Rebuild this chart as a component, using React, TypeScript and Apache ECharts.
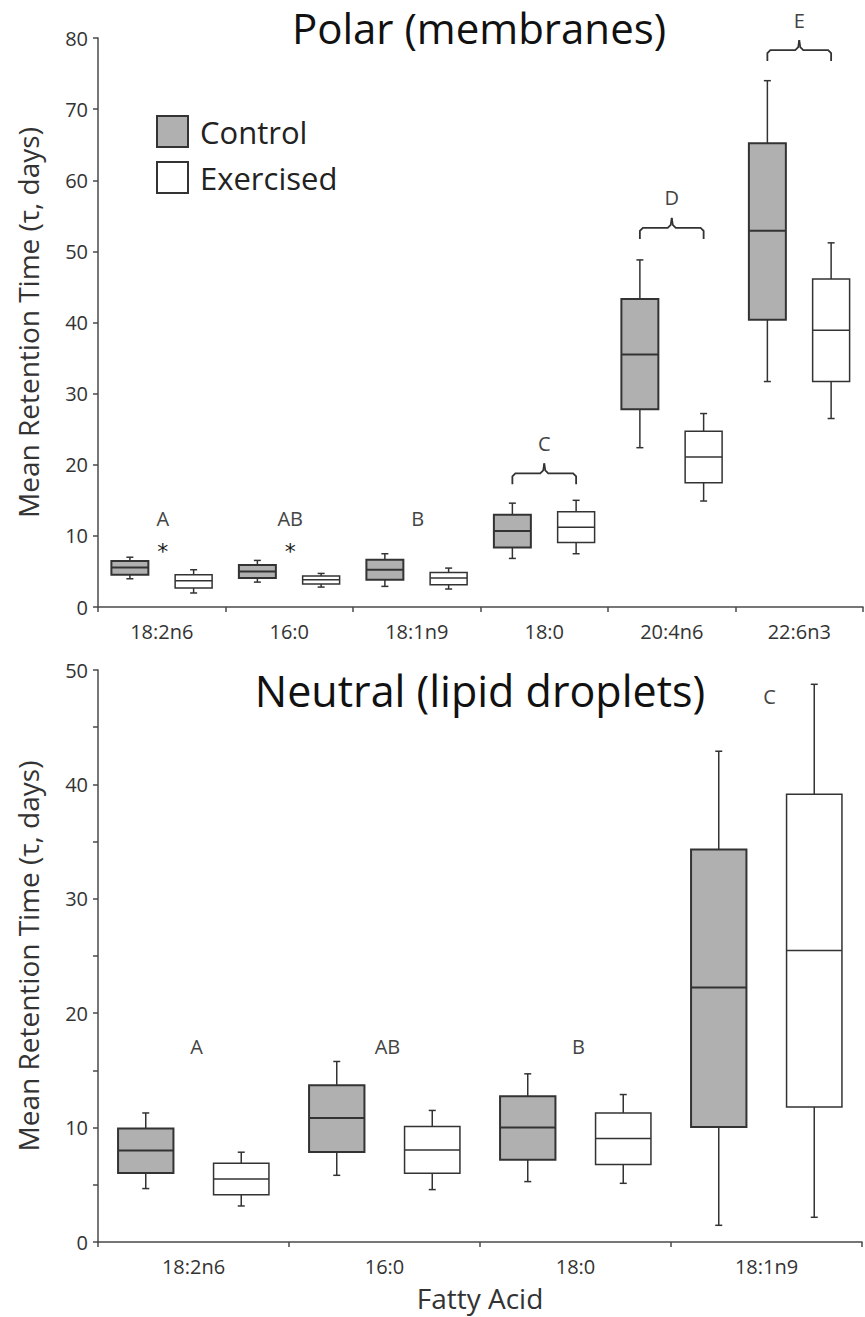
import React, { useEffect, useRef } from "react";
import * as echarts from "echarts";

// ---- Data ----
const topCategories = ["18:2n6", "16:0", "18:1n9", "18:0", "20:4n6", "22:6n3"];
// [low whisker, Q1, median, Q3, high whisker]
const topControl = [
  [3.97, 4.54, 5.56, 6.46, 7.0],
  [3.5, 4.07, 5.0, 5.9, 6.55],
  [2.9, 3.83, 5.24, 6.64, 7.49],
  [6.83, 8.37, 10.7, 12.96, 14.6],
  [22.4, 27.8, 35.5, 43.3, 48.8],
  [31.7, 40.4, 52.9, 65.2, 74.0],
];
const topExercised = [
  [1.97, 2.67, 3.69, 4.54, 5.24],
  [2.8, 3.23, 3.83, 4.35, 4.72],
  [2.53, 3.13, 4.07, 4.86, 5.47],
  [7.49, 9.07, 11.2, 13.4, 15.0],
  [14.9, 17.46, 21.1, 24.7, 27.2],
  [26.5, 31.7, 38.9, 46.1, 51.2],
];
const topYTicks = { min: 0, max: 80, interval: 10 };
const topLetterLabels = ["A", "AB", "B"];
const topLetterCats = [0, 1, 2];
const topLetterValues = [12.4, 12.4, 12.4];
const topStarCats = [0, 1];
const topStarValues = [8.5, 8.5];
const topBracketLabels = ["C", "D", "E"];
const topBracketCats = [3, 4, 5];
const topBracketValues = [18.8, 53.3, 78.3];

const bottomCategories = ["18:2n6", "16:0", "18:0", "18:1n9"];
const bottomControl = [
  [4.67, 6.04, 7.99, 9.92, 11.28],
  [5.83, 7.87, 10.85, 13.7, 15.78],
  [5.28, 7.2, 10.0, 12.74, 14.7],
  [1.46, 10.06, 22.25, 34.3, 42.9],
];
const bottomExercised = [
  [3.15, 4.14, 5.51, 6.88, 7.85],
  [4.58, 6.01, 8.05, 10.09, 11.5],
  [5.13, 6.77, 9.04, 11.28, 12.89],
  [2.16, 11.81, 25.48, 39.13, 48.75],
];
const bottomYTicks = { min: 0, max: 50, interval: 10 };
const bottomLetterLabels = ["A", "AB", "B", "C"];
const bottomLetterCats = [0, 1, 2, 3];
const bottomLetterValues = [17.05, 17.05, 17.05, 47.66];

const seriesNames = ["Control", "Exercised"];
const topTitle = "Polar (membranes)";
const bottomTitle = "Neutral (lipid droplets)";
const yAxisName = "Mean Retention Time (\u03c4, days)";
const xAxisName = "Fatty Acid";

// ---- Styles ----
const FONT = "Open Sans";
const GRAY = "#b0b0b0";
const LINE = "#333";
const AXIS = "#4a4a4a";
const TEXT = "#333";

function boxRenderer(offsetFrac: number, widthFrac: number, fill: string, lw: number) {
  return (params: any, api: any) => {
    const idx = api.value(0);
    const band = api.size([1, 0])[0];
    const cx = api.coord([idx, 0])[0] + offsetFrac * band;
    const w = widthFrac * band;
    const yLow = api.coord([idx, api.value(1)])[1];
    const yQ1 = api.coord([idx, api.value(2)])[1];
    const yMed = api.coord([idx, api.value(3)])[1];
    const yQ3 = api.coord([idx, api.value(4)])[1];
    const yHigh = api.coord([idx, api.value(5)])[1];
    const cap = 3.5;
    const ls = { stroke: LINE, lineWidth: 1.5 };
    return {
      type: "group",
      children: [
        { type: "line", shape: { x1: cx, y1: yQ3, x2: cx, y2: yHigh }, style: ls },
        { type: "line", shape: { x1: cx - cap, y1: yHigh, x2: cx + cap, y2: yHigh }, style: ls },
        { type: "line", shape: { x1: cx, y1: yQ1, x2: cx, y2: yLow }, style: ls },
        { type: "line", shape: { x1: cx - cap, y1: yLow, x2: cx + cap, y2: yLow }, style: ls },
        {
          type: "rect",
          shape: { x: cx - w / 2, y: yQ3, width: w, height: yQ1 - yQ3 },
          style: { fill, stroke: LINE, lineWidth: lw },
        },
        { type: "line", shape: { x1: cx - w / 2, y1: yMed, x2: cx + w / 2, y2: yMed }, style: { stroke: LINE, lineWidth: lw } },
      ],
    };
  };
}

function letterRenderer(labels: string[], fontSize: number, dx: number, dy: number, family: string, color: string) {
  return (params: any, api: any) => {
    const p = api.coord([api.value(0), api.value(1)]);
    return {
      type: "text",
      x: p[0] + dx,
      y: p[1] + dy,
      style: {
        text: labels[params.dataIndex],
        fill: color,
        fontSize,
        fontFamily: family,
        align: "center",
        verticalAlign: "middle",
      },
    };
  };
}

function bracketRenderer(labels: string[]) {
  return (params: any, api: any) => {
    const idx = api.value(0);
    const band = api.size([1, 0])[0];
    const c = api.coord([idx, api.value(1)]);
    const xc = c[0];
    const y = c[1];
    const x1 = xc - 0.25 * band;
    const x2 = xc + 0.25 * band;
    const st = { stroke: LINE, lineWidth: 1.8, fill: null };
    return {
      type: "group",
      children: [
        {
          type: "polyline",
          shape: { points: [[x1, y + 11], [x1, y + 3], [x1 + 3, y], [xc - 4, y], [xc - 1, y - 3], [xc, y - 10]] },
          style: st,
        },
        {
          type: "polyline",
          shape: { points: [[xc, y - 10], [xc + 1, y - 3], [xc + 4, y], [x2 - 3, y], [x2, y + 3], [x2, y + 11]] },
          style: st,
        },
        {
          type: "text",
          x: xc,
          y: y - 30,
          style: {
            text: labels[params.dataIndex],
            fill: "#444",
            fontSize: 20,
            fontFamily: FONT,
            align: "center",
            verticalAlign: "middle",
          },
        },
      ],
    };
  };
}

function makeXAxis(gridIndex: number, cats: string[], withName: boolean) {
  return {
    type: "category",
    gridIndex,
    data: cats,
    boundaryGap: true,
    axisLine: { show: true, lineStyle: { color: AXIS, width: 1.5 } },
    axisTick: { show: true, length: 5, inside: false, alignWithLabel: false, lineStyle: { color: AXIS, width: 1.5 } },
    axisLabel: { color: TEXT, fontSize: 20, fontFamily: FONT, margin: 14 },
    splitLine: { show: false },
    name: withName ? xAxisName : "",
    nameLocation: "middle",
    nameGap: 42,
    nameTextStyle: { color: TEXT, fontSize: 28, fontFamily: FONT },
  };
}

function makeYAxis(gridIndex: number, ticks: any, minor: boolean) {
  return {
    type: "value",
    gridIndex,
    min: ticks.min,
    max: ticks.max,
    interval: ticks.interval,
    axisLine: { show: true, lineStyle: { color: AXIS, width: 1.5 } },
    axisTick: { show: true, length: 5, lineStyle: { color: AXIS, width: 1.5 } },
    minorTick: { show: minor, splitNumber: 2, length: 5, lineStyle: { color: AXIS, width: 1.5 } },
    axisLabel: { color: TEXT, fontSize: 20, fontFamily: FONT, margin: 10 },
    splitLine: { show: false },
    name: yAxisName,
    nameLocation: "middle",
    nameRotate: 90,
    nameGap: 56,
    nameTextStyle: { color: TEXT, fontSize: 28, fontFamily: FONT },
  };
}

export default function App() {
  const ref = useRef<HTMLDivElement>(null);
  useEffect(() => {
    if (!ref.current) return;
    const chart = echarts.init(ref.current, null, { renderer: "svg" });
    const boxSeries = (name: string, data: number[][], xi: number, yi: number, off: number, fill: string, lw: number) => ({
      type: "custom",
      name,
      xAxisIndex: xi,
      yAxisIndex: yi,
      itemStyle: { color: fill, borderColor: LINE, borderWidth: lw },
      encode: { x: 0, y: [1, 2, 3, 4, 5] },
      data: data.map((d, i) => [i, ...d]),
      renderItem: boxRenderer(off, 0.29, fill, lw),
      silent: true,
    });
    const option: any = {
      animation: false,
      backgroundColor: "#fff",
      grid: [
        { left: 98, top: 38, width: 765, height: 569 },
        { left: 98, top: 670, width: 764, height: 572 },
      ],
      xAxis: [makeXAxis(0, topCategories, false), makeXAxis(1, bottomCategories, true)],
      yAxis: [makeYAxis(0, topYTicks, false), makeYAxis(1, bottomYTicks, true)],
      legend: {
        orient: "vertical",
        left: 151,
        top: 110,
        itemWidth: 31,
        itemHeight: 31,
        itemGap: 13,
        icon: "rect",
        selectedMode: false,
        textStyle: { fontSize: 31, color: "#222", fontFamily: FONT, padding: [0, 0, 0, 7] },
        data: [
          { name: seriesNames[0], itemStyle: { color: GRAY, borderColor: LINE, borderWidth: 2 } },
          { name: seriesNames[1], itemStyle: { color: "#fff", borderColor: LINE, borderWidth: 2 } },
        ],
      },
      graphic: [
        {
          type: "text",
          x: 479,
          y: 27,
          style: { text: topTitle, fontSize: 42, fontFamily: FONT, fill: "#111", align: "center", verticalAlign: "middle" },
        },
        {
          type: "text",
          x: 480,
          y: 690,
          style: { text: bottomTitle, fontSize: 43, fontFamily: FONT, fill: "#111", align: "center", verticalAlign: "middle" },
        },
      ],
      series: [
        boxSeries(seriesNames[0], topControl, 0, 0, -0.25, GRAY, 2),
        boxSeries(seriesNames[1], topExercised, 0, 0, 0.25, "#fff", 1.5),
        boxSeries(seriesNames[0], bottomControl, 1, 1, -0.25, GRAY, 2),
        boxSeries(seriesNames[1], bottomExercised, 1, 1, 0.25, "#fff", 1.5),
        {
          type: "custom",
          xAxisIndex: 0,
          yAxisIndex: 0,
          silent: true,
          data: topLetterCats.map((c, i) => [c, topLetterValues[i]]),
          renderItem: letterRenderer(topLetterLabels, 20, 1, 0, FONT, "#444"),
        },
        {
          type: "custom",
          xAxisIndex: 0,
          yAxisIndex: 0,
          silent: true,
          data: topStarCats.map((c, i) => [c, topStarValues[i]]),
          renderItem: letterRenderer(topStarCats.map(() => "*"), 22, 1, 5, "DejaVu Sans", "#1a1a1a"),
        },
        {
          type: "custom",
          xAxisIndex: 0,
          yAxisIndex: 0,
          silent: true,
          data: topBracketCats.map((c, i) => [c, topBracketValues[i]]),
          renderItem: bracketRenderer(topBracketLabels),
        },
        {
          type: "custom",
          xAxisIndex: 1,
          yAxisIndex: 1,
          silent: true,
          data: bottomLetterCats.map((c, i) => [c, bottomLetterValues[i]]),
          renderItem: letterRenderer(bottomLetterLabels, 20, 3, 0, FONT, "#444"),
        },
      ],
    };
    chart.setOption(option);
    return () => chart.dispose();
  }, []);
  return (
    <div
      ref={ref}
      style={{ position: "absolute", left: 0, top: 0, width: 865, height: 1317, background: "#fff" }}
    />
  );
}
